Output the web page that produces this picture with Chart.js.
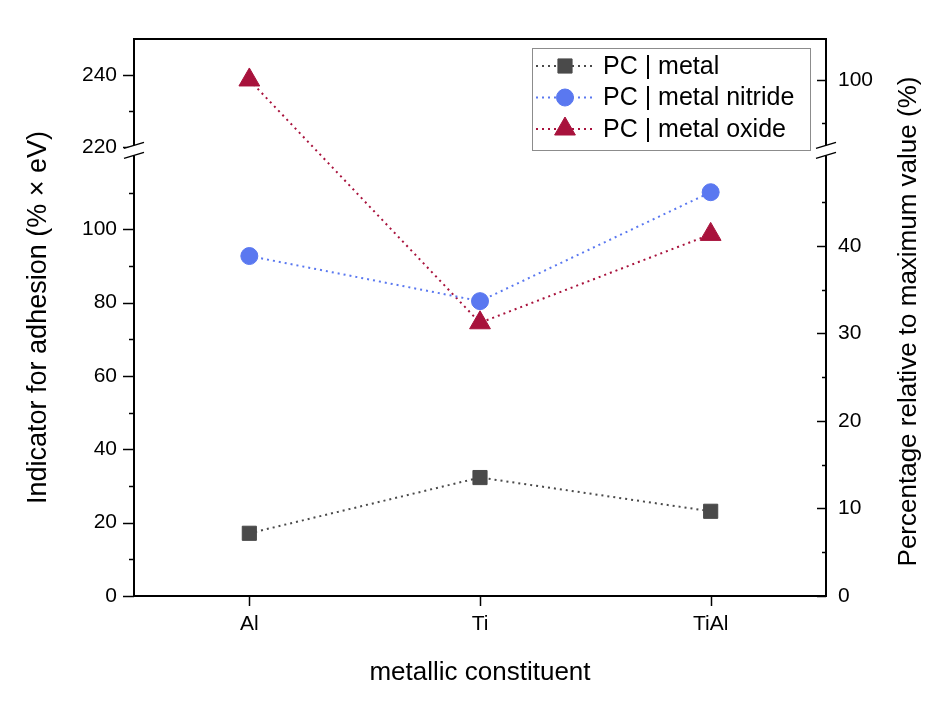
<!DOCTYPE html>
<html>
<head>
<meta charset="utf-8">
<title>Indicator for adhesion</title>
<script src="https://cdn.jsdelivr.net/npm/chart.js@4.4.1/dist/chart.umd.min.js"></script>
<style>
  html, body { margin: 0; padding: 0; background: #fff; }
  #wrap { width: 930px; height: 715px; }
</style>
</head>
<body>
<div id="wrap"><canvas id="chart" width="930" height="715"></canvas></div>
<script>
// values
const categories = ['Al', 'Ti', 'TiAl'];
const pcMetal = [17.1, 32.3, 23.1];
const pcNitride = [92.7, 80.4, 110.1];
const pcOxide = [238.6, 74.5, 98.6];

// tick labels (major) and unlabelled minor ticks
const leftTicks = [0, 20, 40, 60, 80, 100, 220, 240];
const leftMinor = [10, 30, 50, 70, 90, 110, 230];
const rightTicks = [0, 10, 20, 30, 40, 100];
const rightMinor = [5, 15, 25, 35, 45, 95];

// right axis is the left one relative to the largest value
const maxValue = Math.max(...pcMetal, ...pcNitride, ...pcOxide);
const toPercent = v => v / maxValue * 100;

const FONT = '"Liberation Sans", Arial, sans-serif';
const colors = {metal: '#4a4a4a', nitride: '#5a78f0', oxide: '#a8123c'};

// broken axis: lower part min..breakLow, upper part breakHigh..max
const axisBreaks = {
    y: {min: 0, breakLow: 121.5, breakHigh: 219, max: 250, lowerShare: 0.8, ticks: leftTicks},
    y2: {min: 0, breakLow: toPercent(121.5), breakHigh: toPercent(219), max: toPercent(250), lowerShare: 0.8, ticks: rightTicks}
};

class BrokenLinearScale extends Chart.LinearScale {
    determineDataLimits() {
        const b = axisBreaks[this.id];
        this.min = b.min;
        this.max = b.max;
    }
    buildTicks() {
        return axisBreaks[this.id].ticks.map(v => ({value: v}));
    }
    splitPixel() {
        const b = axisBreaks[this.id];
        return this.bottom - (this.bottom - this.top) * b.lowerShare;
    }
    getPixelForValue(value) {
        const b = axisBreaks[this.id];
        const split = this.splitPixel();
        if (value <= b.breakLow) {
            return this.bottom - (value - b.min) / (b.breakLow - b.min) * (this.bottom - split);
        }
        if (value >= b.breakHigh) {
            return split - (value - b.breakHigh) / (b.max - b.breakHigh) * (split - this.top);
        }
        return split;
    }
    getValueForPixel(pixel) {
        const b = axisBreaks[this.id];
        const split = this.splitPixel();
        if (pixel >= split) {
            return b.min + (this.bottom - pixel) / (this.bottom - split) * (b.breakLow - b.min);
        }
        return b.breakHigh + (split - pixel) / (split - this.top) * (b.max - b.breakHigh);
    }
}
BrokenLinearScale.id = 'brokenLinear';
Chart.register(BrokenLinearScale);

// tick marks, top frame line, break marks, legend and right-hand title
const decorations = {
    id: 'decorations',
    afterDraw(chart) {
        const ctx = chart.ctx;
        const area = chart.chartArea;
        const yLeft = chart.scales.y;
        const yRight = chart.scales.y2;
        const xs = chart.scales.x;

        ctx.save();
        ctx.strokeStyle = '#000';
        ctx.lineWidth = 2;
        ctx.setLineDash([]);

        // top frame
        ctx.beginPath();
        ctx.moveTo(area.left - 1, area.top);
        ctx.lineTo(area.right + 1, area.top);
        ctx.stroke();

        // tick marks
        ctx.lineWidth = 1.5;
        const tick = (x1, y1, x2, y2) => {
            ctx.beginPath();
            ctx.moveTo(x1, y1);
            ctx.lineTo(x2, y2);
            ctx.stroke();
        };
        leftTicks.forEach(v => { const p = Math.round(yLeft.getPixelForValue(v)) + 0.5; tick(area.left - 11, p, area.left, p); });
        leftMinor.forEach(v => { const p = Math.round(yLeft.getPixelForValue(v)) + 0.5; tick(area.left - 5, p, area.left, p); });
        rightTicks.forEach(v => { const p = Math.round(yRight.getPixelForValue(v)) + 0.5; tick(area.right - 9, p, area.right, p); });
        rightMinor.forEach(v => { const p = Math.round(yRight.getPixelForValue(v)) + 0.5; tick(area.right - 4, p, area.right, p); });
        categories.forEach((c, i) => { const p = Math.round(xs.getPixelForValue(i)) + 0.5; tick(p, area.bottom, p, area.bottom + 10); });

        // axis break marks
        const split = yLeft.splitPixel();
        [area.left, area.right].forEach(x => {
            ctx.fillStyle = '#fff';
            ctx.beginPath();
            ctx.moveTo(x - 10, split - 2);
            ctx.lineTo(x + 10, split - 8);
            ctx.lineTo(x + 10, split + 2);
            ctx.lineTo(x - 10, split + 8);
            ctx.closePath();
            ctx.fill();
            tick(x - 10, split - 2, x + 10, split - 8);
            tick(x - 10, split + 8, x + 10, split + 2);
        });

        // legend
        const box = {left: area.right - 294, top: area.top + 9, width: 278, height: 102};
        ctx.fillStyle = '#fff';
        ctx.fillRect(box.left, box.top, box.width, box.height);
        ctx.strokeStyle = '#8c8c8c';
        ctx.lineWidth = 1;
        ctx.strokeRect(box.left + 0.5, box.top + 0.5, box.width, box.height);
        ctx.font = '25px ' + FONT;
        ctx.textBaseline = 'middle';
        ctx.textAlign = 'left';
        chart.data.datasets.forEach((ds, i) => {
            const y = box.top + 18 + i * 31.5;
            ctx.strokeStyle = ds.borderColor;
            ctx.lineWidth = 2;
            ctx.setLineDash([2, 4]);
            tick(box.left + 4, y, box.left + 64, y);
            ctx.setLineDash([]);
            ctx.fillStyle = ds.backgroundColor;
            ctx.lineWidth = 1;
            Chart.helpers.drawPoint(ctx, {pointStyle: ds.pointStyle, rotation: 0, radius: ds.pointRadius, borderWidth: 1}, box.left + 33, y);
            ctx.fillStyle = '#000';
            ctx.fillText(ds.label, box.left + 71, y + 1);
        });

        // right axis title, reading bottom to top
        ctx.translate(909, (area.top + area.bottom) / 2 + 4);
        ctx.rotate(-Math.PI / 2);
        ctx.font = '26px ' + FONT;
        ctx.textAlign = 'center';
        ctx.fillStyle = '#000';
        ctx.fillText('Percentage relative to maximum value (%)', 0, 0);
        ctx.restore();
    }
};

const dotted = [2, 4];

new Chart(document.getElementById('chart'), {
    type: 'line',
    data: {
        labels: categories,
        datasets: [
            {
                label: 'PC | metal',
                data: pcMetal,
                yAxisID: 'y',
                borderColor: colors.metal,
                backgroundColor: colors.metal,
                borderWidth: 2,
                borderDash: dotted,
                pointStyle: 'rect',
                pointRadius: 10,
                pointBorderWidth: 1
            },
            {
                label: 'PC | metal nitride',
                data: pcNitride,
                yAxisID: 'y',
                borderColor: colors.nitride,
                backgroundColor: colors.nitride,
                borderWidth: 2,
                borderDash: dotted,
                pointStyle: 'circle',
                pointRadius: 8.5,
                pointBorderWidth: 1
            },
            {
                label: 'PC | metal oxide',
                data: pcOxide,
                yAxisID: 'y',
                borderColor: colors.oxide,
                backgroundColor: colors.oxide,
                borderWidth: 2,
                borderDash: dotted,
                pointStyle: 'triangle',
                pointRadius: 12,
                pointBorderWidth: 1
            }
        ]
    },
    options: {
        responsive: false,
        animation: false,
        events: [],
        layout: {padding: {top: 39, left: 0, right: 0, bottom: 0}},
        plugins: {
            legend: {display: false},
            tooltip: {enabled: false}
        },
        scales: {
            x: {
                type: 'category',
                offset: true,
                grid: {display: false, drawTicks: false},
                border: {display: true, color: '#000', width: 2},
                ticks: {color: '#000', font: {family: FONT, size: 21}, padding: 16},
                title: {
                    display: true,
                    text: 'metallic constituent',
                    color: '#000',
                    font: {family: FONT, size: 26},
                    padding: {top: 27, bottom: 27}
                },
                afterFit: s => { s.height = 119; }
            },
            y: {
                type: 'brokenLinear',
                position: 'left',
                grid: {display: false, drawTicks: false},
                border: {display: true, color: '#000', width: 2},
                ticks: {color: '#000', font: {family: FONT, size: 21}, padding: 17, autoSkip: false, callback: v => String(v)},
                title: {
                    display: true,
                    text: 'Indicator for adhesion (% × eV)',
                    color: '#000',
                    font: {family: FONT, size: 27},
                    padding: {top: 22, bottom: 22}
                },
                afterFit: s => { s.width = 134; }
            },
            y2: {
                type: 'brokenLinear',
                position: 'right',
                grid: {display: false, drawTicks: false},
                border: {display: true, color: '#000', width: 2},
                ticks: {color: '#000', font: {family: FONT, size: 21}, padding: 12, autoSkip: false, callback: v => String(v)},
                afterFit: s => { s.width = 104; }
            }
        }
    },
    plugins: [decorations]
});
</script>
</body>
</html>
